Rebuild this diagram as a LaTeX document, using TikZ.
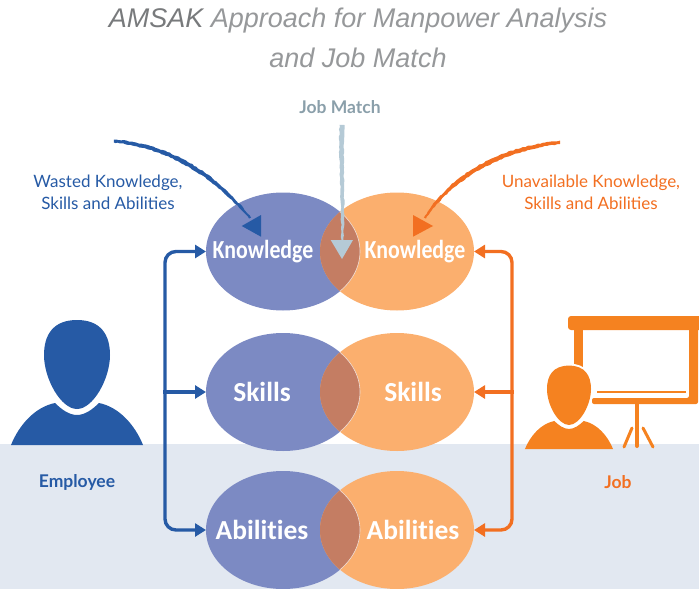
\documentclass[tikz,border=0pt]{standalone}
\usepackage{fontspec}
\setmainfont{Lato}
\newfontfamily\titlefont{Liberation Sans}
\newfontfamily\ovalfont[Ligatures=NoCommon]{Carlito}
\newfontfamily\ovalnarrow[Ligatures=NoCommon, FakeStretch=0.84]{Carlito}
\usepackage{xcolor}
\usetikzlibrary{shapes.geometric, arrows.meta, positioning, decorations.pathmorphing}
\definecolor{empblue}{RGB}{38,90,165}
\definecolor{joborange}{RGB}{242,111,33}
\definecolor{figorange}{RGB}{245,130,32}
\definecolor{ovalblue}{RGB}{124,138,195}
\definecolor{ovalorange}{RGB}{251,175,110}
\definecolor{lapfill}{RGB}{196,125,99}
\definecolor{bandfill}{RGB}{226,232,241}
\definecolor{matchgrey}{RGB}{138,159,170}
\definecolor{matchline}{RGB}{181,202,214}
\definecolor{titlegrey}{RGB}{150,152,154}
\definecolor{titledark}{RGB}{120,122,124}
\tikzset{
    oval/.style={
        ellipse,
        inner sep=0pt,
        outer sep=0pt,
        minimum width=154pt,
        minimum height=118pt
    },
    empoval/.style={
        oval,
        fill=ovalblue
    },
    joboval/.style={
        oval,
        fill=ovalorange,
        path picture={
            \fill[lapfill, draw=white!75!lapfill, line width=0.6pt] (#1.center) ellipse [x radius=77pt, y radius=59pt];
        }
    },
    ovallabel/.style={
        text=white,
        font=\ovalfont\fontsize{27.5}{27.5}\selectfont\bfseries
    },
    knowlabel/.style={
        text=white,
        font=\ovalnarrow\fontsize{26}{26}\selectfont\bfseries
    },
    titleline/.style={
        text=titlegrey,
        font=\titlefont\fontsize{27}{27}\selectfont\itshape
    },
    caption/.style={
        align=center,
        font=\fontsize{17}{22}\selectfont
    },
    heading/.style={
        font=\fontsize{17.5}{17.5}\selectfont\bfseries
    },
    flow/.style={
        line width=3.4pt,
        rounded corners=11pt,
        {Triangle[length=11pt,width=13pt]}-{Triangle[length=11pt,width=13pt]}
    },
    flowin/.style={
        line width=3.4pt,
        -{Triangle[length=11pt,width=13pt]}
    },
    rough/.style={
        decorate,
        decoration={random steps, segment length=2.5pt, amplitude=0.5pt}
    }
}
\newcommand{\personfig}[3]{% x, base y, scale
  \begin{scope}[shift={(#1,#2)}, scale=#3]
    \path[bodypart] (-66,0) .. controls (-58,-20) and (-42,-38) .. (-22,-42)
      .. controls (-16,-36) and (-8,-30) .. (0,-30)
      .. controls (8,-30) and (16,-36) .. (22,-42)
      .. controls (42,-38) and (58,-20) .. (66,0) -- cycle;
    \path[headpart] (0,-125) .. controls (-24,-125) and (-33,-110) .. (-33,-90)
      .. controls (-33,-66) and (-16,-36) .. (0,-36)
      .. controls (16,-36) and (33,-66) .. (33,-90)
      .. controls (33,-110) and (24,-125) .. (0,-125) -- cycle;
  \end{scope}
}
\begin{document}
\begin{tikzpicture}[x=1pt, y=-1pt, node distance=22.5pt]
\useasboundingbox (0,0) rectangle (699,589);
\pgfmathsetseed{7}
\fill[bandfill] (0,444) rectangle (699,589);

% Title
\node[titleline] (titleA) at (358,21) {{\color{titledark}AMSAK} Approach for Manpower Analysis};
\node[titleline] (titleB) at (358,58) {and Job Match};

% Ovals
\node[empoval] (knowL) at (283,251.5) {};
\node[joboval=knowL, right=-40pt of knowL] (knowR) {};
\node[empoval, below=of knowL] (skillL) {};
\node[joboval=skillL, right=-40pt of skillL] (skillR) {};
\node[empoval, below=20pt of skillL] (abilL) {};
\node[joboval=abilL, right=-40pt of abilL] (abilR) {};

\node[knowlabel, xshift=-20pt, yshift=-0.5pt] (knowLtxt) at (knowL) {Knowledge};
\node[knowlabel, xshift=18pt, yshift=-0.5pt] (knowRtxt) at (knowR) {Knowledge};
\node[ovallabel, xshift=-21pt] (skillLtxt) at (skillL) {Skills};
\node[ovallabel, xshift=16pt] (skillRtxt) at (skillR) {Skills};
\node[ovallabel, xshift=-21pt] (abilLtxt) at (abilL) {Abilities};
\node[ovallabel, xshift=16pt] (abilRtxt) at (abilR) {Abilities};

% Labels
\node[caption, text=empblue] (wasted) at (108,192) {Wasted Knowledge,\\Skills and Abilities};
\node[caption, text=joborange] (unavail) at (591,192) {Unavailable Knowledge,\\Skills and Abilities};
\node[heading, text=matchgrey] (match) at (340,107) {Job Match};
\node[heading, text=empblue] (employee) at (77,482) {Employee};
\node[heading, text=joborange] (job) at (618,482) {Job};

% Connectors
\draw[flow, empblue] (knowL.west) -- ++(-41,0) |- (abilL.west);
\draw[flowin, empblue] (skillL.west -| 163,0) -- (skillL.west);
\draw[flow, joborange] (knowR.east) -- ++(38,0) |- (abilR.east);
\draw[flowin, joborange] (skillR.east -| 514,0) -- (skillR.east);

% Hand-drawn pointers
\fill[empblue, rough] (114,139.5) .. controls (167,144) and (213,169) .. (251,217.5) -- (249,218.5) .. controls (209,172) and (164,148) .. (114,142.5) -- cycle;
\fill[joborange, rough] (560,140.5) .. controls (500,147) and (451,173) .. (424,217.5) -- (426,218.5) .. controls (454,177) and (504,151) .. (560,144) -- cycle;
\fill[matchline, rough] (339.5,125) -- (344.5,125) .. controls (343,160) and (345,200) .. (343.5,242) -- (341,242) .. controls (342,200) and (338,160) .. (339.5,125) -- cycle;
\fill[empblue] (241.7,226) -- (261,215) -- (261,236.7) -- cycle;
\fill[joborange] (433,226) -- (413,215) -- (413,236.7) -- cycle;
\fill[matchline] (342,259) -- (330.7,240) -- (353,240) -- cycle;

% Screen
\fill[figorange, rounded corners=3pt] (568,316) -- (720,316) -- (720,330) -- (568,330) -- cycle;
\fill[figorange] (574,328) rectangle (583,380);
\fill[figorange, rounded corners=2pt] (689,328) -- (698,328) -- (698,404) -- (592,404) -- (592,398) -- (689,398) -- cycle;
\draw[figorange, line width=2pt] (597,392) -- (686,392);
\draw[figorange, line width=4pt, line cap=round] (637,404) -- (637,446);
\draw[figorange, line width=3pt, line cap=round] (632,428) -- (624,447);
\draw[figorange, line width=3pt, line cap=round] (643,428) -- (653,447);

% People
\tikzset{bodypart/.style={fill=empblue}, headpart/.style={fill=empblue}}
\personfig{77}{445}{1}
\tikzset{bodypart/.style={fill=figorange}, headpart/.style={fill=figorange, preaction={draw=white, line width=4pt}}}
\personfig{569}{449}{0.667}
\end{tikzpicture}
\end{document}
